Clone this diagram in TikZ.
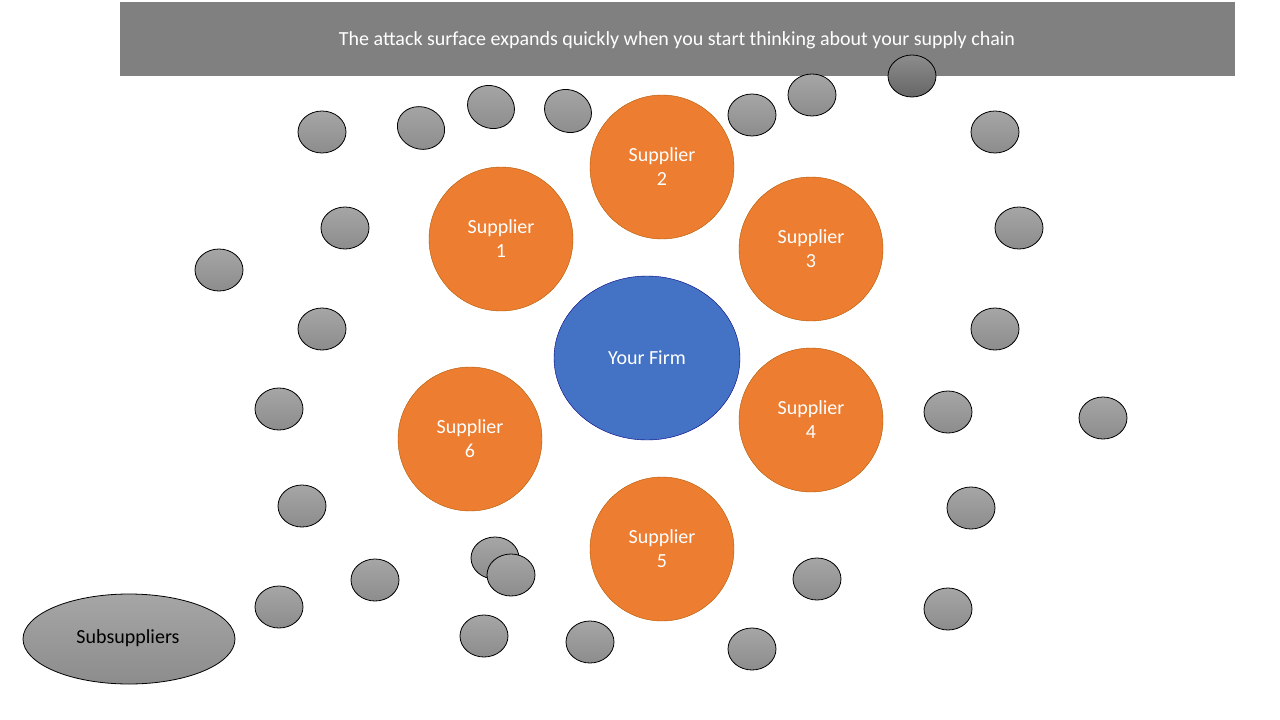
\documentclass[tikz,border=0pt]{standalone}
\usetikzlibrary{shapes.geometric}
\usepackage{fontspec}
\setmainfont{Carlito}
\begin{document}
\begin{tikzpicture}[x=1pt,y=-1pt,
 sub/.style={draw=black,line width=0.8pt,top color=gray!70,bottom color=gray!110!black,shading angle=0},
 sup/.style={circle,draw=orange!70!black,fill={rgb,255:red,237;green,125;blue,49},minimum size=144pt,text=white,font=\fontsize{20}{24}\selectfont,align=center,inner sep=0pt},
 firm/.style={ellipse,draw=blue!50!black,fill={rgb,255:red,68;green,114;blue,196},minimum width=186pt,minimum height=164pt,text=white,font=\fontsize{20}{24}\selectfont}]
\useasboundingbox (0,0) rectangle (1280,720);
\fill[gray] (120,2) rectangle (1235,76);
\node[text=white,font=\fontsize{20}{24}\selectfont] (title) at (677,40) {The attack surface expands quickly when you start thinking about your supply chain};
\foreach \x/\y/\r in {322/132/0,421/128/-20,491/107/-25,568/111/-25,752/115/0,812/95/0,995/132/0,345/228/0,219/270/0,1019/228/0,322/329/0,995/329/0,279/409/0,948/412/0,1103/418/0,302/506/0,971/508/0,495/558/0,511/575/0,375/580/0,817/579/0,279/607/0,948/609/0,484/636/0,590/642/0,752/649/0}
  \draw[sub,rotate around={\r:(\x,\y)}] (\x,\y) ellipse (24 and 21);
\draw[draw=black,line width=0.8pt,top color=gray!90,bottom color=gray!80!black] (912,76) ellipse (24 and 21);
\node[sup] (s1) at (501,239) {Supplier\\1};
\node[sup] (s2) at (662,167) {Supplier\\2};
\node[sup] (s3) at (811,249) {Supplier\\3};
\node[sup] (s4) at (811,420) {Supplier\\4};
\node[sup] (s5) at (662,549) {Supplier\\5};
\node[sup] (s6) at (470,439) {Supplier\\6};
\node[firm] (firm) at (647,358) {Your Firm};
\draw[sub] (129,639) ellipse (106 and 45);
\node[font=\fontsize{20}{24}\selectfont] (subs) at (128,638) {Subsuppliers};
\end{tikzpicture}
\end{document}
